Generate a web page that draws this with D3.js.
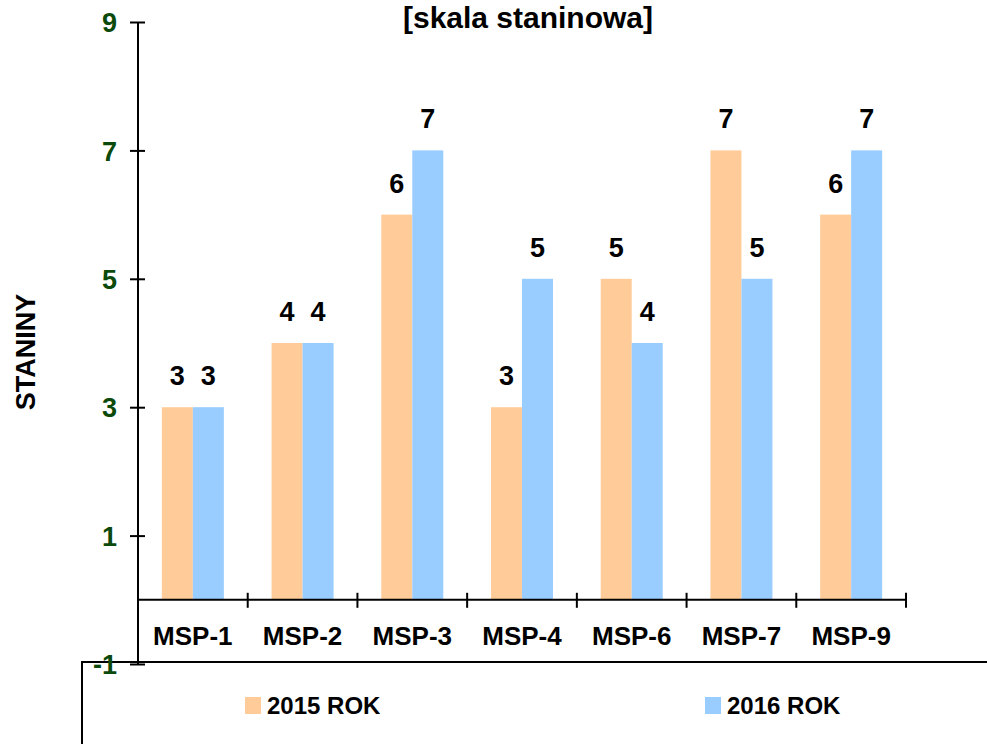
<!DOCTYPE html>
<head>
    <meta charset="utf-8">
    <title>Staniny MSP</title>
    <style>
        body { margin: 0; background: #fff; }
        svg { display: block; font-family: Arial, "Liberation Sans", sans-serif; font-weight: bold; }
    </style>
</head>
<body>
    <svg width="987" height="744"></svg>

    <script src="https://d3js.org/d3.v7.min.js"></script>
    <script>

        var categories = ["MSP-1", "MSP-2", "MSP-3", "MSP-4", "MSP-6", "MSP-7", "MSP-9"];
        var seriesNames = ["2015 ROK", "2016 ROK"];
        var values2015 = [3, 4, 6, 3, 5, 7, 6];
        var values2016 = [3, 4, 7, 5, 4, 5, 7];
        var yTicks = [-1, 1, 3, 5, 7, 9];
        var colors = ["#FFCC99", "#99CCFF"];

        var svg = d3.select("svg");

        var x = d3.scaleBand()
            .domain(categories)
            .range([138, 906]);

        var y = d3.scaleLinear()
            .domain([-1, 9])
            .range([664, 22]);

        var barW = 31;

        // title
        svg.append("text")
            .attr("x", 528).attr("y", 28)
            .attr("text-anchor", "middle")
            .style("font-size", "30px")
            .text("[skala staninowa]");

        // y axis title
        svg.append("text")
            .attr("transform", "translate(35,352) rotate(-90)")
            .attr("text-anchor", "middle")
            .style("font-size", "27px")
            .text("STANINY");

        // legend box frame
        svg.append("path")
            .attr("d", "M82,744V662H987")
            .attr("fill", "none")
            .attr("stroke", "#000")
            .attr("stroke-width", 2);

        // bars + value labels
        var series = [values2015, values2016];
        series.forEach(function (vals, s) {
            svg.append("g").selectAll("rect")
                .data(vals)
                .enter().append("rect")
                .attr("x", function (d, i) { return x(categories[i]) + x.bandwidth() / 2 - barW + s * barW; })
                .attr("y", function (d) { return y(d); })
                .attr("width", barW)
                .attr("height", function (d) { return y(0) - y(d); })
                .attr("fill", colors[s]);

            svg.append("g").selectAll("text")
                .data(vals)
                .enter().append("text")
                .attr("x", function (d, i) { return x(categories[i]) + x.bandwidth() / 2 - barW / 2 + s * barW; })
                .attr("y", function (d) { return y(d) - 22; })
                .attr("text-anchor", "middle")
                .style("font-size", "27px")
                .text(function (d) { return d; });
        });

        // y axis
        var yAxis = svg.append("g")
            .attr("transform", "translate(138,0)")
            .call(d3.axisLeft(y).tickValues(yTicks).tickSize(8).tickPadding(13)
                .tickFormat(function (d) { return String(d); }));
        yAxis.select(".domain").attr("d", "M0," + y(-1) + "V" + y(9)).attr("stroke-width", 2);
        yAxis.selectAll(".tick line").attr("x2", 7).attr("x1", -8).attr("stroke-width", 2);
        yAxis.selectAll(".tick text")
            .attr("dy", "0.36em")
            .attr("fill", "#0b4a0b")
            .style("font-size", "27px")
            .style("font-family", "Arial, 'Liberation Sans', sans-serif")
            .style("font-weight", "bold");

        // category axis at y = 0
        var xAxis = svg.append("g")
            .attr("transform", "translate(0," + y(0) + ")")
            .call(d3.axisBottom(x).tickSize(0).tickPadding(40));
        xAxis.select(".domain").attr("d", "M138,0H906").attr("stroke-width", 2);
        xAxis.selectAll(".tick text")
            .attr("dy", "0.2em")
            .attr("fill", "#000")
            .style("font-size", "26px")
            .style("font-family", "Arial, 'Liberation Sans', sans-serif")
            .style("font-weight", "bold");

        var sep = x.domain().map(function (c) { return x(c); }).concat([x.range()[1]]);
        xAxis.selectAll(".sep")
            .data(sep)
            .enter().append("line")
            .attr("class", "sep")
            .attr("x1", function (d) { return d; })
            .attr("x2", function (d) { return d; })
            .attr("y1", -7).attr("y2", 8)
            .attr("stroke", "#000")
            .attr("stroke-width", 2);

        // legend
        var legend = svg.append("g").selectAll("g")
            .data(seriesNames)
            .enter().append("g")
            .attr("transform", function (d, i) { return "translate(" + (245 + i * 460) + ",697)"; });
        legend.append("rect")
            .attr("width", 16).attr("height", 17)
            .attr("fill", function (d, i) { return colors[i]; });
        legend.append("text")
            .attr("x", 22).attr("y", 17)
            .style("font-size", "24px")
            .text(function (d) { return d; });

    </script>
</body>
